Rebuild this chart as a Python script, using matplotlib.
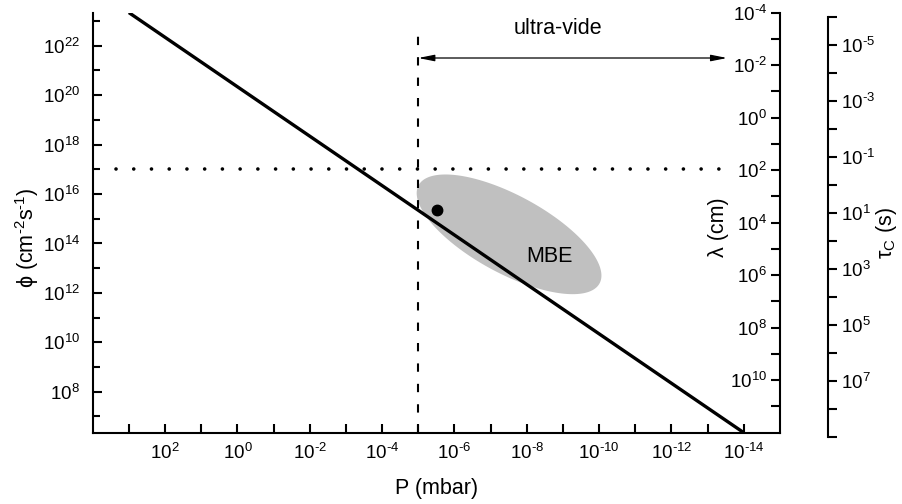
import numpy as np
import matplotlib
matplotlib.use("Agg")
import matplotlib.pyplot as plt
from matplotlib.ticker import FixedLocator, FuncFormatter, NullFormatter

plt.rcParams['font.family'] = ['Liberation Sans', 'DejaVu Sans']
plt.rcParams['mathtext.fontset'] = 'custom'
plt.rcParams['mathtext.rm'] = 'Liberation Sans'
plt.rcParams['mathtext.it'] = 'Liberation Sans:italic'
plt.rcParams['mathtext.sf'] = 'Liberation Sans'

HYPHEN = '\u2010'

# flux of molecules hitting a surface vs pressure
P_line = [1e3, 1e-14]          # mbar
phi_line = [2.2e23, 2.2e6]     # cm^-2 s^-1

# monolayer threshold (dotted) and start of ultra-high vacuum (dashed)
P_dotted = [2.2e3, 4.7e-14]
phi_dotted = [1e17, 1e17]
P_uhv = 1e-5
phi_dashed = [2.2e6, 3.5e22]
P_arrow_end = 2.9e-14
phi_arrow = 3.2e21

# typical MBE working point and region (log10 P, log10 phi, semi-axes in decades)
P_dot = 3.1e-6
phi_dot = 2.3e15
mbe_center = (-7.51, 14.37)
mbe_axis1 = (-2.50, -1.99)
mbe_axis2 = (0.52, -1.38)
P_mbe_label = 2.3e-9
phi_mbe_label = 3.1e13
P_uhv_label = 1.35e-9
phi_uhv_label = 5.0e22

# axis ranges and tick exponents
P_lim = (1e4, 1e-15)
phi_lim = (2.2e6, 2.2e23)
lam_lim = (1e12, 1e-4)
tau_lim = (1e9, 1e-6)
P_major = list(range(2, -15, -2))
P_minor = list(range(3, -14, -2))
phi_major = list(range(8, 23, 2))
phi_minor = list(range(7, 24, 2))
lam_major = list(range(-4, 11, 2))
lam_minor = list(range(-3, 12, 2))
tau_major = list(range(-5, 8, 2))
tau_minor = list(range(-6, 10, 2)) + [9]


def pow10(v, pos):
    e = int(round(np.log10(v)))
    # short hyphen in the exponent instead of a full minus sign
    return '$10^{%s}$' % str(e).replace('-', HYPHEN)


def set_log_ticks(axis, major, minor):
    axis.set_major_locator(FixedLocator([10.0 ** e for e in major]))
    axis.set_minor_locator(FixedLocator([10.0 ** e for e in minor]))
    axis.set_major_formatter(FuncFormatter(pow10))
    axis.set_minor_formatter(NullFormatter())


fig = plt.figure(figsize=(9.03, 5.04), dpi=100)
ax = fig.add_axes([0.10266, 0.14147, 0.76113, 0.83353])

ax.set_xscale('log')
ax.set_yscale('log')
ax.set_xlim(*P_lim)
ax.set_ylim(*phi_lim)

# MBE region
t = np.linspace(0, 2 * np.pi, 240)
ell_x = mbe_center[0] + mbe_axis1[0] * np.cos(t) + mbe_axis2[0] * np.sin(t)
ell_y = mbe_center[1] + mbe_axis1[1] * np.cos(t) + mbe_axis2[1] * np.sin(t)
ax.fill(10 ** ell_x, 10 ** ell_y, color='#c0c0c0', lw=0, zorder=1)

ax.plot(P_line, phi_line, color='black', lw=2.4, zorder=3, solid_capstyle='butt')
ax.plot(P_dotted, phi_dotted, color='black', lw=2.6,
        linestyle=(0, (0.01, 4.9)), dash_capstyle='round', zorder=2)
ax.plot([P_uhv, P_uhv], phi_dashed, color='black', lw=1.5,
        linestyle=(0, (4, 5.8)), zorder=2)
ax.plot([P_dot], [phi_dot], 'o', color='black', ms=7.5, zorder=4)

ax.annotate('', xy=(P_arrow_end, phi_arrow), xytext=(P_uhv, phi_arrow),
            arrowprops=dict(arrowstyle='<|-|>,head_length=0.8,head_width=0.16',
                            lw=0.9, color='black', shrinkA=0, shrinkB=0,
                            mutation_scale=12))
ax.text(P_uhv_label, phi_uhv_label, 'ultra-vide', fontsize=15.5,
        ha='center', va='center')
ax.text(P_mbe_label, phi_mbe_label, 'MBE', fontsize=15.5, ha='center', va='center')

set_log_ticks(ax.xaxis, P_major, P_minor)
set_log_ticks(ax.yaxis, phi_major, phi_minor)
ax.tick_params(which='both', direction='in', width=1.5, length=6.5, labelsize=13.5)
ax.tick_params(axis='x', which='both', pad=7)
ax.tick_params(axis='y', which='both', pad=9)
ax.tick_params(axis='y', which='minor', length=4.8)
ax.spines['top'].set_visible(False)
ax.spines['right'].set_visible(False)
for s in ('left', 'bottom'):
    ax.spines[s].set_linewidth(1.5)

# mean free path axis, labels inside the frame
ax2 = ax.twinx()
ax2.set_yscale('log')
ax2.set_ylim(*lam_lim)
set_log_ticks(ax2.yaxis, lam_major, lam_minor)
ax2.tick_params(axis='y', which='both', direction='in', width=1.5, length=6.5,
                labelsize=13.5, pad=-9.4)
for lab in ax2.get_yticklabels():
    lab.set_horizontalalignment('right')
for s in ('top', 'left', 'bottom'):
    ax2.spines[s].set_visible(False)
ax2.spines['right'].set_linewidth(1.5)

# monolayer formation time axis
ax3 = fig.add_axes([0.8966, 0.1339, 0.02, 0.8324])
ax3.set_yscale('log')
ax3.set_ylim(*tau_lim)
ax3.patch.set_visible(False)
ax3.xaxis.set_visible(False)
for s in ('top', 'left', 'bottom'):
    ax3.spines[s].set_visible(False)
ax3.spines['right'].set_linewidth(1.5)
ax3.yaxis.tick_right()
set_log_ticks(ax3.yaxis, tau_major, tau_minor)
ax3.tick_params(axis='y', which='both', direction='out', width=1.5, length=6.5,
                labelsize=13.5, pad=3)

phi_label = 'ϕ (cm$^{%s2}$s$^{%s1}$)' % (HYPHEN, HYPHEN)
fig.text(0.4839, 0.0298, 'P (mbar)', fontsize=15.5, ha='center', va='center')
fig.text(0.03045, 0.5288, phi_label, fontsize=15.5,
         ha='center', va='center', rotation=90)
fig.text(0.7962, 0.5496, 'λ (cm)', fontsize=15.5, ha='center', va='center',
         rotation=90)
fig.text(0.9812, 0.5377, r'τ$_\mathrm{C}$ (s)', fontsize=15.5, ha='center',
         va='center', rotation=90)

fig.savefig('out.png', dpi=100)
